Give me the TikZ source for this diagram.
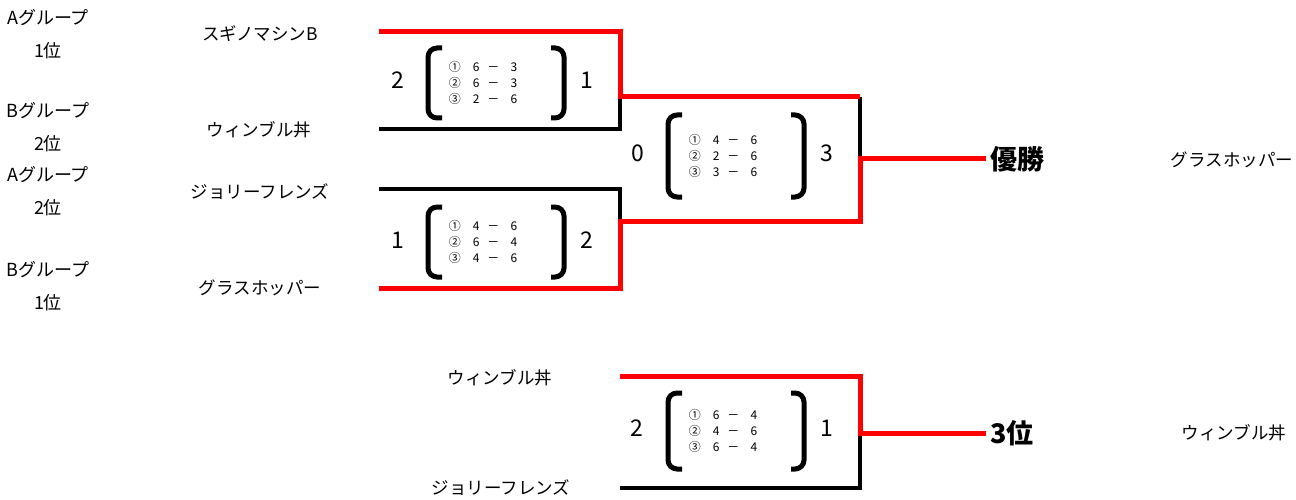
\documentclass[tikz,border=0pt]{standalone}
\usepackage{fontspec}
\setmainfont{Noto Sans CJK JP}
\usepackage{tikz}
\usetikzlibrary{positioning}
\usetikzlibrary{calc}
\definecolor{winred}{RGB}{255,0,0}

\newcommand{\parens}[2]{%
	\draw[paren] (#1) ++(-41,-#2) -- ++(-14,0) -- ++(0,2*#2) -- ++(14,0);
	\draw[paren] (#1) ++(68,-#2) -- ++(13,0) -- ++(0,2*#2) -- ++(-13,0);}

\begin{document}
\begin{tikzpicture}[x=1pt,y=-1pt,
	team/.style={font=\fontsize{17.5}{20}\selectfont},
	group/.style={font=\fontsize{18}{33}\selectfont, align=center},
	pts/.style={font=\fontsize{23}{26}\selectfont},
	games/.style={font=\fontsize{12}{16}\selectfont, align=left},
	result/.style={font=\fontsize{27}{30}\selectfont\bfseries, anchor=west, inner sep=4pt},
	winline/.style={draw=winred, line width=5pt},
	loseline/.style={draw=black, line width=3.5pt},
	paren/.style={draw=black, line width=5pt, rounded corners=9pt}]
	\useasboundingbox (0,0) rectangle (1296,500);

	\begin{scope}[every node/.style={group}]
	    \node (ga1) at (48,34) {Aグループ\\1位};
	    \node (gb2) at (48,127) {Bグループ\\2位};
	    \node (ga2) at (48,191) {Aグループ\\2位};
	    \node (gb1) at (48,286) {Bグループ\\1位};
	\end{scope}

	\begin{scope}[every node/.style={team}]
	    \node (sugino) at (260,34) {スギノマシンB};
	    \node (wimble) at (259,130) {ウィンブル丼};
	    \node (jolly) at (260,192) {ジョリーフレンズ};
	    \node (grass) at (260,288) {グラスホッパー};
	    \node (wimble3) at (500,378) {ウィンブル丼};
	    \node (jolly3) at (501,488) {ジョリーフレンズ};
	    \node (champ) at (1232,160) {グラスホッパー};
	    \node (bronze) at (1234,433) {ウィンブル丼};
	\end{scope}

	\node[result] (win) at (986,159) {優勝};
	\node[result] (third) at (986,433) {3位};

	\begin{scope}[every node/.style={games}]
	    \node (sc1) at (483,83) {①\hspace{12pt}6\hspace{8pt}－\hspace{11pt}3\\②\hspace{12pt}6\hspace{8pt}－\hspace{11pt}3\\③\hspace{12pt}2\hspace{8pt}－\hspace{11pt}6};
	    \node (sc2) at (483,242) {①\hspace{12pt}4\hspace{8pt}－\hspace{11pt}6\\②\hspace{12pt}6\hspace{8pt}－\hspace{11pt}4\\③\hspace{12pt}4\hspace{8pt}－\hspace{11pt}6};
	    \node (scf) at (723,156) {①\hspace{12pt}4\hspace{8pt}－\hspace{11pt}6\\②\hspace{12pt}2\hspace{8pt}－\hspace{11pt}6\\③\hspace{12pt}3\hspace{8pt}－\hspace{11pt}6};
	    \node (sct) at (723,431) {①\hspace{12pt}6\hspace{8pt}－\hspace{11pt}4\\②\hspace{12pt}4\hspace{8pt}－\hspace{11pt}6\\③\hspace{12pt}6\hspace{8pt}－\hspace{11pt}4};
	\end{scope}

	\parens{sc1}{35}
	\parens{sc2}{35}
	\parens{scf}{41}
	\parens{sct}{38}

	\begin{scope}[every node/.style={pts}]
	    \node (p1a) at (398,80) {2};
	    \node (p1b) at (587,80) {1};
	    \node (p2a) at (398,240) {1};
	    \node (p2b) at (587,240) {2};
	    \node (pfa) at (638,153) {0};
	    \node (pfb) at (827,153) {3};
	    \node (pta) at (637,428) {2};
	    \node (ptb) at (827,428) {1};
	\end{scope}

	\coordinate (a1) at (379,32);
	\coordinate (a2) at (379,129);
	\coordinate (ja) at (620,97);
	\coordinate (b1) at (379,189);
	\coordinate (b2) at (379,288);
	\coordinate (jb) at (620,221);
	\coordinate (fa) at (860,97);
	\coordinate (fb) at (860,221);
	\coordinate (jf) at (860,159);
	\coordinate (t1) at (620,376);
	\coordinate (t2) at (620,488);
	\coordinate (jt) at (860,433);

	\draw[loseline] (a2) -| (ja);
	\draw[loseline] (b1) -| (jb);
	\draw[loseline] (fa) -- (jf);
	\draw[loseline] (t2) -| (jt);
	\draw[winline] (a1) -| (ja) -- (fa);
	\draw[winline] (b2) -| (jb) -- (fb) -- (jf) -- (win.west);
	\draw[winline] (t1) -| (jt) -- (third.west);
\end{tikzpicture}
\end{document}
